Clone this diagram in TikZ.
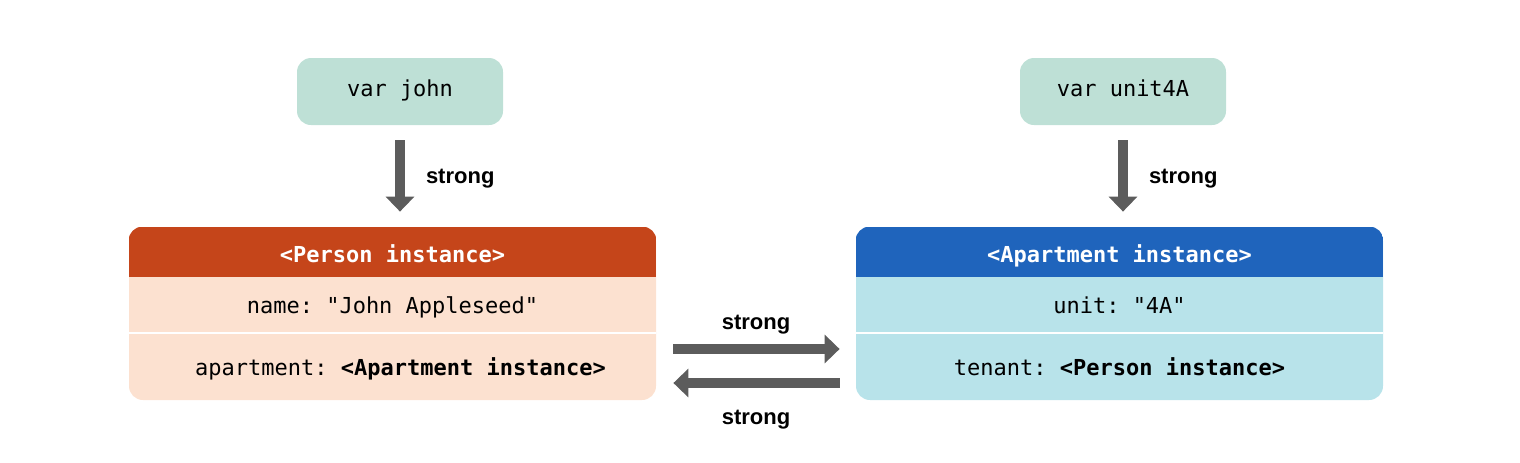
\documentclass[tikz,border=0pt]{standalone}
\usepackage{fontspec}
\setmainfont{Liberation Sans}
\setmonofont{DejaVu Sans Mono}
\usetikzlibrary{arrows.meta,positioning}

\definecolor{varfill}{HTML}{BEE0D6}
\definecolor{personhead}{HTML}{C5451A}
\definecolor{personbody}{HTML}{FCE1D0}
\definecolor{apthead}{HTML}{1F64BC}
\definecolor{aptbody}{HTML}{B8E3EA}
\definecolor{arrowgray}{HTML}{5C5C5C}

\begin{document}
\begin{tikzpicture}[x=0.5pt,y=-0.5pt]

\useasboundingbox (0,0) rectangle (1520,462);

% set style here
\tikzstyle{every node}=[font=\fontsize{11}{13}\selectfont\ttfamily,text height=8pt,text depth=1pt];
\tikzstyle{varbox}=[fill=varfill,rounded corners=7pt,minimum width=103pt,minimum height=33.5pt,text depth=3pt];
\tikzstyle{objbox}=[rounded corners=7pt,minimum width=263.5pt,minimum height=86.5pt];
\tikzstyle{strongarrow}=[draw=arrowgray,line width=5pt,-{Triangle[width=14pt,length=7.5pt]},arrowgray];
\tikzstyle{strongtext}=[font=\fontsize{11}{13}\selectfont\bfseries\rmfamily,inner sep=0pt];
%
\node (john) at (400,91.5) [varbox] {var john};
\node (unit) at (1123,91.5) [varbox] {var unit4A};

\node (person) at (392.5,313.5) [objbox,fill=personbody] {};
\node (apt) at (1119.5,313.5) [objbox,fill=aptbody] {};

% headers
\begin{scope}
\clip[rounded corners=7pt] (person.north west) rectangle (person.south east);
\fill[personhead] (person.north west) rectangle ([yshift=-25pt]person.north east);
\end{scope}
\begin{scope}
\clip[rounded corners=7pt] (apt.north west) rectangle (apt.south east);
\fill[apthead] (apt.north west) rectangle ([yshift=-25pt]apt.north east);
\end{scope}
\draw[white,line width=1pt] (129,333) -- (656,333) (856,333) -- (1383,333);

\node (phead) at (392.5,255) [text=white,font=\fontsize{11}{13}\selectfont\ttfamily\bfseries] {<Person instance>};
\node (pname) at (392.5,306) {name: "John Appleseed"};
\node (papt) at (400.5,368) {apartment: \textbf{<Apartment instance>}};

\node (ahead) at (1119.5,255) [text=white,font=\fontsize{11}{13}\selectfont\ttfamily\bfseries] {<Apartment instance>};
\node (aunit) at (1119.5,306) {unit: "4A"};
\node (atenant) at (1119.5,368) {tenant: \textbf{<Person instance>}};

% references
\draw[strongarrow,shorten <=7.5pt,shorten >=7.5pt] (john.south) -- (john.south |- person.north)
  node[midway,strongtext,anchor=west,xshift=10.5pt,text=black] {strong};
\draw[strongarrow,shorten <=7.5pt,shorten >=7.5pt] (unit.south) -- (unit.south |- apt.north)
  node[midway,strongtext,anchor=west,xshift=10.5pt,text=black] {strong};
\draw[strongarrow,shorten <=8.5pt,shorten >=8pt] ([yshift=-17.75pt]person.east) -- ([yshift=-17.75pt]apt.west)
  node[midway,strongtext,yshift=13.5pt,text=black] {strong};
\draw[strongarrow,shorten <=8pt,shorten >=8.5pt] ([yshift=-34.75pt]apt.west) -- ([yshift=-34.75pt]person.east)
  node[midway,strongtext,yshift=-17pt,text=black] {strong};

\end{tikzpicture}
\end{document}
